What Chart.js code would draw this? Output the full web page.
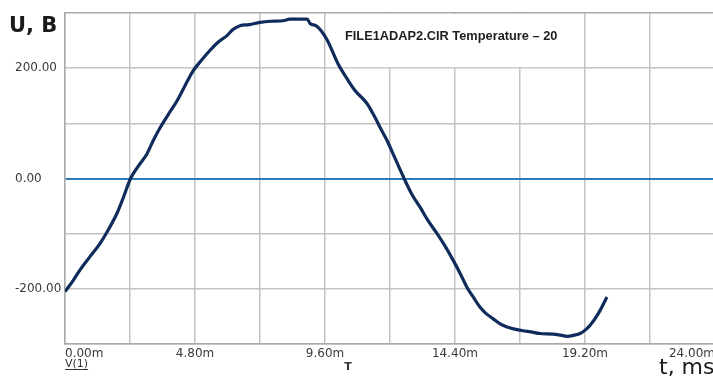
<!DOCTYPE html>
<html>
<head>
<meta charset="utf-8">
<script src="https://cdn.jsdelivr.net/npm/chart.js@4.4.1/dist/chart.umd.min.js"></script>
<style>
  html, body { margin: 0; padding: 0; background: #fff; overflow: hidden; }
  #wrap { position: relative; width: 720px; height: 376px; }
</style>
</head>
<body>
<div id="wrap"><canvas id="scope" width="720" height="376"></canvas></div>
<script>
// time, ms
const timeMs = [
  0.00, 0.30, 0.55, 0.90, 1.29, 1.60, 1.92, 2.15, 2.42, 2.70,
  3.03, 3.25, 3.51, 3.80, 4.14, 4.45, 4.73, 5.00, 5.35, 5.65,
  5.98, 6.20, 6.46, 6.80, 7.20, 7.60, 8.05, 8.30, 8.94, 9.05,
  9.30, 9.67, 10.08, 10.40, 10.70, 11.15, 11.40, 11.63, 11.90, 12.11,
  12.52, 12.80, 13.11, 13.40, 13.74, 14.05, 14.33, 14.60, 14.84, 15.10,
  15.32, 15.55, 15.80, 16.05, 16.32, 16.60, 16.91, 17.20, 17.54, 18.02,
  18.30, 18.54, 18.80, 19.02, 19.25, 19.39, 19.69, 20.01
];
// V(1), volts
const voltage = [
  -205, -185, -166, -143, -118, -93, -63, -35, 0, 22,
  45, 68, 92, 115, 141, 170, 195, 212, 232, 247,
  259, 270, 277, 279, 283, 285, 286, 289, 289, 281,
  276, 252, 208, 182, 160, 136, 115, 93, 68, 45,
  0, -28, -52, -76, -100, -124, -148, -173, -197, -217,
  -233, -245, -254, -263, -269, -273, -276, -278, -281, -282,
  -284, -286, -284, -281, -273, -266, -245, -215
];

const xTickValues = [0, 2.4, 4.8, 7.2, 9.6, 12, 14.4, 16.8, 19.2, 21.6, 24];
const xTickLabels = ['0.00m', '', '4.80m', '', '9.60m', '', '14.40m', '', '19.20m', '', '24.00m'];
const yTickValues = [-300, -200, -100, 0, 100, 200, 300];
const yTickLabels = ['', '-200.00', '', '0.00', '', '200.00', ''];

const headerText = 'FILE1ADAP2.CIR Temperature \u2013 20';

const GRID = '#c3c3c3';
const BORDER = '#a9a9a9';
const ZERO = '#2b7db8';
const TRACE = '#0f2b5b';

const points = timeMs.map((t, i) => ({ x: t, y: voltage[i] }));

const scopeDecor = {
  id: 'scopeDecor',
  beforeDatasetsDraw(chart) {
    const c = chart.ctx;
    const xs = chart.scales.x, ys = chart.scales.y;
    // header box hides the grid behind it
    const x0 = xs.getPixelForValue(9.6) + 1.5;
    const x1 = xs.getPixelForValue(19.2) - 1.5;
    const y0 = ys.getPixelForValue(300) + 1;
    const y1 = ys.getPixelForValue(200) - 1;
    c.save();
    c.fillStyle = '#fff';
    c.fillRect(x0, y0, x1 - x0, y1 - y0);
    c.fillStyle = '#1e1e1e';
    c.font = 'bold 12.8px "Liberation Sans", Arial, sans-serif';
    c.textBaseline = 'middle';
    c.textAlign = 'left';
    c.fillText(headerText, 345, 36);
    c.restore();
  },
  afterDraw(chart) {
    const c = chart.ctx;
    c.save();
    c.fillStyle = '#1a1a1a';
    c.textBaseline = 'alphabetic';
    c.textAlign = 'left';
    c.font = 'bold 21px "DejaVu Sans", sans-serif';
    c.fillText('U, B', 9, 32);

    c.font = '22px "DejaVu Sans", sans-serif';
    c.fillText('t, ms', 659, 374);

    c.fillStyle = '#333';
    c.font = '11px "DejaVu Sans", sans-serif';
    c.fillText('V(1)', 65, 367);
    const w = c.measureText('V(1)').width;
    c.fillRect(65, 369, w, 1);

    c.font = 'bold 11px "DejaVu Sans", sans-serif';
    c.textAlign = 'center';
    c.fillText('T', 348, 370);
    c.restore();
  }
};

new Chart(document.getElementById('scope'), {
  type: 'line',
  data: {
    datasets: [{
      label: 'V(1)',
      data: points,
      borderColor: TRACE,
      borderWidth: 3.2,
      pointRadius: 0,
      cubicInterpolationMode: 'monotone',
      fill: false
    }]
  },
  options: {
    responsive: false,
    animation: false,
    layout: { padding: { left: 15, top: 13, right: 5, bottom: 0 } },
    plugins: { legend: { display: false }, tooltip: { enabled: false } },
    scales: {
      x: {
        type: 'linear',
        min: 0,
        max: 24,
        afterBuildTicks: s => { s.ticks = xTickValues.map(v => ({ value: v })); },
        afterFit: s => { s.height = 32; },
        ticks: {
          autoSkip: false,
          maxRotation: 0,
          align: 'inner',
          padding: 3,
          color: '#3a3a3a',
          font: { family: '"DejaVu Sans", sans-serif', size: 12 },
          callback: (v, i) => xTickLabels[i]
        },
        grid: { color: GRID, lineWidth: 1.5, drawTicks: false },
        border: { color: BORDER, width: 1.5 }
      },
      y: {
        type: 'linear',
        min: -300,
        max: 300,
        afterBuildTicks: s => { s.ticks = yTickValues.map(v => ({ value: v })); },
        afterFit: s => { s.width = 50; },
        ticks: {
          autoSkip: false,
          crossAlign: 'far',
          padding: 0,
          color: '#3a3a3a',
          font: { family: '"DejaVu Sans", sans-serif', size: 12 },
          callback: (v, i) => yTickLabels[i]
        },
        grid: {
          drawTicks: false,
          color: ctx => ctx.tick && ctx.tick.value === 0 ? ZERO : (ctx.tick && ctx.tick.value === 300 ? BORDER : GRID),
          lineWidth: ctx => ctx.tick && ctx.tick.value === 0 ? 2 : 1.5
        },
        border: { color: BORDER, width: 1.5 }
      }
    }
  },
  plugins: [scopeDecor]
});
</script>
</body>
</html>
